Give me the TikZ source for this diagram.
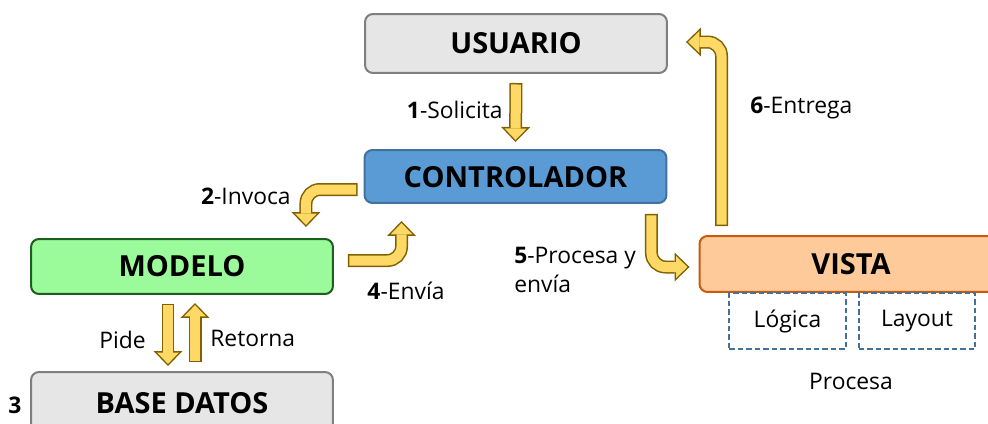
\documentclass[tikz,border=0pt]{standalone}
\usepackage{fontspec}
\setmainfont{Open Sans}
\usetikzlibrary{calc,arrows.meta}
\definecolor{grisfondo}{HTML}{E6E6E6}
\definecolor{grisborde}{HTML}{7F7F7F}
\definecolor{azulfondo}{HTML}{5B9BD5}
\definecolor{azulborde}{HTML}{41719C}
\definecolor{verdefondo}{HTML}{9BFB9B}
\definecolor{verdeborde}{HTML}{1E5E1E}
\definecolor{naranjafondo}{HTML}{FFCA99}
\definecolor{naranjaborde}{HTML}{C55A11}
\definecolor{oro}{HTML}{FFD966}
\definecolor{oroborde}{HTML}{806000}
\tikzstyle{caja}=[rectangle, rounded corners=0.16cm, line width=0.04cm, minimum width=6.04cm, minimum height=1.1cm, inner sep=0pt, anchor=center, font=\fontsize{16.5}{19}\selectfont\bfseries]
\tikzstyle{etiq}=[align=left, inner sep=0pt, font=\fontsize{13}{17}\selectfont]
\tikzstyle{parte}=[rectangle, draw=azulborde, line width=0.04cm, dash pattern=on 0.11cm off 0.06cm, minimum width=2.34cm, minimum height=1.12cm, inner sep=0pt, font=\fontsize{13}{15}\selectfont]
\tikzstyle{flechaborde}=[draw=oroborde, line width=0.26cm, rounded corners=0.28cm, -{Triangle[length=0.3cm, width=0.58cm, line width=0pt]}]
\tikzstyle{flecharelleno}=[draw=oro, line width=0.2cm, rounded corners=0.28cm, shorten <=0.03cm, shorten >=0.043cm, -{Triangle[length=0.227cm, width=0.44cm, line width=0pt]}]
\newcommand{\flecha}[1]
{
  \draw[flechaborde] #1;
  \draw[flecharelleno] #1;
}

\begin{document}
\begin{tikzpicture}[x=0.02cm, y=-0.02cm]
	\useasboundingbox (0,0) rectangle (988,423);
	\clip (0,0) rectangle (988,423);

	\node[caja, fill=grisfondo, draw=grisborde, minimum height=1.18cm](usuario) at (516,43.5){USUARIO};
	\node[caja, fill=azulfondo, draw=azulborde, minimum height=1.06cm, text height=1.3em, text depth=0pt](controlador) at (515.5,176.5){CONTROLADOR};
	\node[caja, fill=verdefondo, draw=verdeborde](modelo) at (182,266.5){MODELO};
	\node[caja, fill=grisfondo, draw=grisborde, minimum height=1.24cm](basedatos) at (182,403){BASE DATOS};
	\node[caja, fill=naranjafondo, draw=naranjaborde, minimum width=6.06cm, minimum height=1.12cm](vista) at (851,264){VISTA};
	\node[parte](logica) at (787.5,321){Lógica};
	\node[parte](layout) at (917,321){Layout};
	\node[etiq](procesa) at (851,381){Procesa};
	\node[etiq, font=\fontsize{13}{15}\selectfont\bfseries](paso3) at (15,405){3};

	\flecha{($(usuario.south)+(0,9)$) -- ($(controlador.north)+(0,-7)$)}
	\flecha{($(controlador.west)+(-6,13)$) -| ($(modelo.north east)+(-28,-11)$)}
	\flecha{($(modelo.east)+(14,-6)$) -| ($(controlador.south west)+(38,17)$)}
	\flecha{($(controlador.south east)+(-16,10)$) |- ($(vista.west)+(-9,3)$)}
	\flecha{($(vista.north west)+(23,-9)$) |- ($(usuario.east)+(18,-1.5)$)}
	\flecha{($(modelo.south)+(-14,9)$) -- ($(basedatos.north)+(-14,-5)$)}
	\flecha{($(basedatos.north)+(13,-9)$) -- ($(modelo.south)+(13,8)$)}

	\node[etiq, anchor=east](solicita) at (503,110){\textbf{1}-Solicita};
	\node[etiq, anchor=east](invoca) at (291,196){\textbf{2}-Invoca};
	\node[etiq](envia) at (406,291){\textbf{4}-Envía};
	\node[etiq, anchor=west](procesaenvia) at (514,270){\textbf{5}-Procesa y\\envía};
	\node[etiq, anchor=west](entrega) at (750,108){\textbf{6}-Entrega};
	\node[etiq, anchor=east](pide) at (146,340){Pide};
	\node[etiq, anchor=west](retorna) at (210,338){Retorna};
\end{tikzpicture}
\end{document}
